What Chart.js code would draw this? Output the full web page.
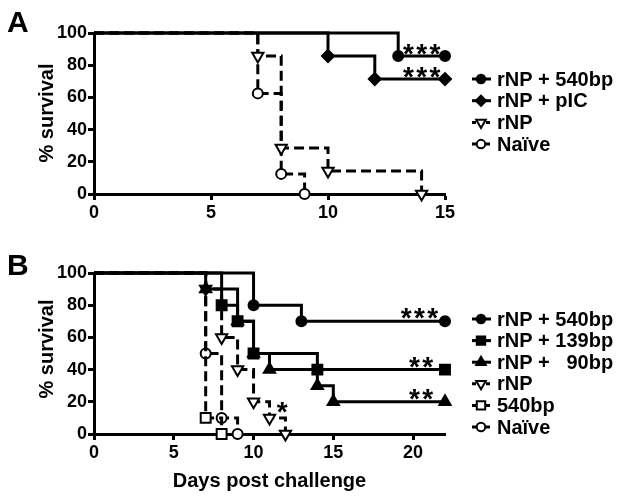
<!DOCTYPE html>
<html lang="en">
<head>
  <meta charset="UTF-8" />
  <title>Survival curves</title>
  <script src="https://cdn.jsdelivr.net/npm/chart.js"></script>
  <style>
    html, body { margin: 0; padding: 0; background: #fff; }
    body { position: relative; width: 624px; height: 501px; overflow: hidden; }
    canvas { position: absolute; left: 0; }
    #chartA { top: 0; }
    #chartB { top: 230px; }
  </style>
</head>
<body>
  <canvas id="chartA" width="624" height="230"></canvas>
  <canvas id="chartB" width="624" height="271"></canvas>

  <script>
    // Panel A - days of death and % survival (Kaplan-Meier steps)
    const daysA540 = [0, 13, 15];
    const survA540 = [100, 85.7, 85.7];
    const daysApIC = [0, 10, 12, 15];
    const survApIC = [100, 85.7, 71.4, 71.4];
    const daysArNP = [0, 7, 8, 10, 14];
    const survArNP = [100, 85.7, 28.6, 14.3, 0];
    const daysANaive = [0, 7, 8, 9];
    const survANaive = [100, 62.5, 12.5, 0];
    const labelsA = ['rNP + 540bp', 'rNP + pIC', 'rNP', 'Naïve'];

    // Panel B
    const daysB540 = [0, 10, 13, 22];
    const survB540 = [100, 80, 70, 70];
    const daysB139 = [0, 8, 9, 10, 14, 22];
    const survB139 = [100, 80, 70, 50, 40, 40];
    const daysB90 = [0, 7, 9, 10, 11, 14, 15, 22];
    const survB90 = [100, 90, 70, 50, 40, 30, 20, 20];
    const daysBrNP = [0, 7, 8, 9, 10, 11, 12];
    const survBrNP = [100, 90, 60, 40, 20, 10, 0];
    const daysB540only = [0, 7, 8];
    const survB540only = [100, 10, 0];
    const daysBNaive = [0, 7, 8, 9];
    const survBNaive = [100, 50, 10, 0];
    const labelsB = ['rNP + 540bp', 'rNP + 139bp', 'rNP +   90bp', 'rNP', '540bp', 'Naïve'];

    // significance marks: day, % survival, text
    const starsA = [[14, 91, '***'], [14, 77, '***']];
    const starsB = [[20.4, 76, '***'], [20.5, 46, '**'], [20.5, 26, '**'], [11.8, 18, '*']];

    const yTicks = [0, 20, 40, 60, 80, 100];
    const FONT = '"Liberation Sans", Arial, Helvetica, sans-serif';
    const DASH = [10, 5];

    const markers = {
      dot:     { pointStyle: 'circle', rot: 0, r: 5, fill: '#000' },
      diamond: { pointStyle: 'rectRot', rot: 0, r: 6, fill: '#000' },
      triDown: { pointStyle: 'triangle', rot: 180, r: 6.5, fill: '#fff' },
      ring:    { pointStyle: 'circle', rot: 0, r: 5, fill: '#fff' },
      square:  { pointStyle: 'rect', rot: 0, r: 7, fill: '#000' },
      triUp:   { pointStyle: 'triangle', rot: 0, r: 6.5, fill: '#000' },
      box:     { pointStyle: 'rect', rot: 0, r: 7, fill: '#fff' }
    };

    function curve(label, days, surv, mk, dashed) {
      const m = markers[mk];
      return {
        label,
        data: days.map((d, i) => ({ x: d, y: surv[i] })),
        stepped: 'before',
        borderColor: '#000',
        borderWidth: 3,
        borderDash: dashed ? DASH : [],
        fill: false,
        clip: false,
        pointStyle: m.pointStyle,
        pointRotation: m.rot,
        pointRadius: days.map((d, i) => i === 0 ? 0 : m.r),
        pointBackgroundColor: m.fill,
        pointBorderColor: '#000',
        pointBorderWidth: 2,
        mk, dashed
      };
    }

    // extra drawing: panel letter, axis titles, legend, stars
    const extras = {
      id: 'extras',
      afterDraw(chart, args, opts) {
        const ctx = chart.ctx;
        const xs = chart.scales.x, ys = chart.scales.y;
        ctx.save();
        ctx.fillStyle = '#000';
        ctx.strokeStyle = '#000';

        // panel letter
        ctx.font = 'bold 30px ' + FONT;
        ctx.textAlign = 'left';
        ctx.textBaseline = 'alphabetic';
        ctx.fillText(opts.letter, 7, opts.letterY);

        // y title
        ctx.save();
        ctx.translate(47, opts.yTitleY);
        ctx.rotate(-Math.PI / 2);
        ctx.font = 'bold 20px ' + FONT;
        ctx.textAlign = 'center';
        ctx.textBaseline = 'middle';
        ctx.fillText('% survival', 0, 0);
        ctx.restore();

        // x title
        if (opts.xTitle) {
          ctx.font = 'bold 20px ' + FONT;
          ctx.textAlign = 'center';
          ctx.textBaseline = 'middle';
          ctx.fillText(opts.xTitle, (chart.chartArea.left + chart.chartArea.right) / 2, opts.xTitleY);
        }

        // legend
        ctx.font = 'bold 20px ' + FONT;
        ctx.textAlign = 'left';
        ctx.textBaseline = 'middle';
        chart.data.datasets.forEach((ds, i) => {
          const y = opts.legendY + i * opts.legendGap;
          const m = markers[ds.mk];
          ctx.lineWidth = 3;
          ctx.setLineDash(ds.dashed ? [4, 3] : []);
          ctx.beginPath();
          ctx.moveTo(472, y);
          ctx.lineTo(491, y);
          ctx.stroke();
          ctx.setLineDash([]);
          ctx.fillStyle = m.fill;
          ctx.lineWidth = 2;
          Chart.helpers.drawPoint(ctx, {
            pointStyle: m.pointStyle, rotation: m.rot,
            radius: m.r * 0.85, borderWidth: 2
          }, 481, y);
          ctx.fillStyle = '#000';
          ctx.fillText(ds.label, 497, y + 1);
        });

        // significance stars
        const size = 28;
        ctx.font = 'bold ' + size + 'px ' + FONT;
        ctx.textAlign = 'center';
        ctx.textBaseline = 'alphabetic';
        opts.stars.forEach(([d, v, t]) => {
          ctx.fillText(t.split('').join('\u200A'), xs.getPixelForValue(d), ys.getPixelForValue(v) + size * 0.56);
        });
        ctx.restore();
      }
    };

    function makeOptions(xMax, top, bottomH, extra) {
      const tickFont = { family: FONT, size: 18, weight: 'bold' };
      return {
        responsive: false,
        animation: false,
        events: [],
        layout: { padding: { left: 0, top: top, right: 179, bottom: 0 } },
        plugins: { legend: { display: false }, tooltip: { enabled: false }, extras: extra },
        scales: {
          x: {
            type: 'linear', min: 0, max: xMax,
            afterFit: s => { s.height = bottomH; },
            border: { color: '#000', width: 3 },
            grid: { drawOnChartArea: false, drawTicks: true, tickLength: 6, tickWidth: 3, tickColor: '#000' },
            ticks: { stepSize: 5, includeBounds: false, color: '#000', font: tickFont, padding: 2, maxRotation: 0 }
          },
          y: {
            min: 0, max: 100,
            afterFit: s => { s.width = 94; },
            afterBuildTicks: s => { s.ticks = yTicks.map(v => ({ value: v })); },
            border: { color: '#000', width: 3 },
            grid: { drawOnChartArea: false, drawTicks: true, tickLength: 6, tickWidth: 3, tickColor: '#000' },
            ticks: { color: '#000', font: tickFont, padding: 1 }
          }
        }
      };
    }

    new Chart(document.getElementById('chartA'), {
      type: 'line',
      data: {
        datasets: [
          curve(labelsA[0], daysA540, survA540, 'dot', false),
          curve(labelsA[1], daysApIC, survApIC, 'diamond', false),
          curve(labelsA[2], daysArNP, survArNP, 'triDown', true),
          curve(labelsA[3], daysANaive, survANaive, 'ring', true)
        ]
      },
      options: makeOptions(15, 33, 36, {
        letter: 'A', letterY: 32, yTitleY: 113,
        legendY: 79, legendGap: 21.7, stars: starsA
      }),
      plugins: [extras]
    });

    new Chart(document.getElementById('chartB'), {
      type: 'line',
      data: {
        datasets: [
          curve(labelsB[0], daysB540, survB540, 'dot', false),
          curve(labelsB[1], daysB139, survB139, 'square', false),
          curve(labelsB[2], daysB90, survB90, 'triUp', false),
          curve(labelsB[3], daysBrNP, survBrNP, 'triDown', true),
          curve(labelsB[4], daysB540only, survB540only, 'box', true),
          curve(labelsB[5], daysBNaive, survBNaive, 'ring', true)
        ]
      },
      options: makeOptions(22, 43, 67, {
        letter: 'B', letterY: 45, yTitleY: 119,
        xTitle: 'Days post challenge', xTitleY: 251,
        legendY: 89, legendGap: 21.6, stars: starsB
      }),
      plugins: [extras]
    });
  </script>
</body>
</html>
